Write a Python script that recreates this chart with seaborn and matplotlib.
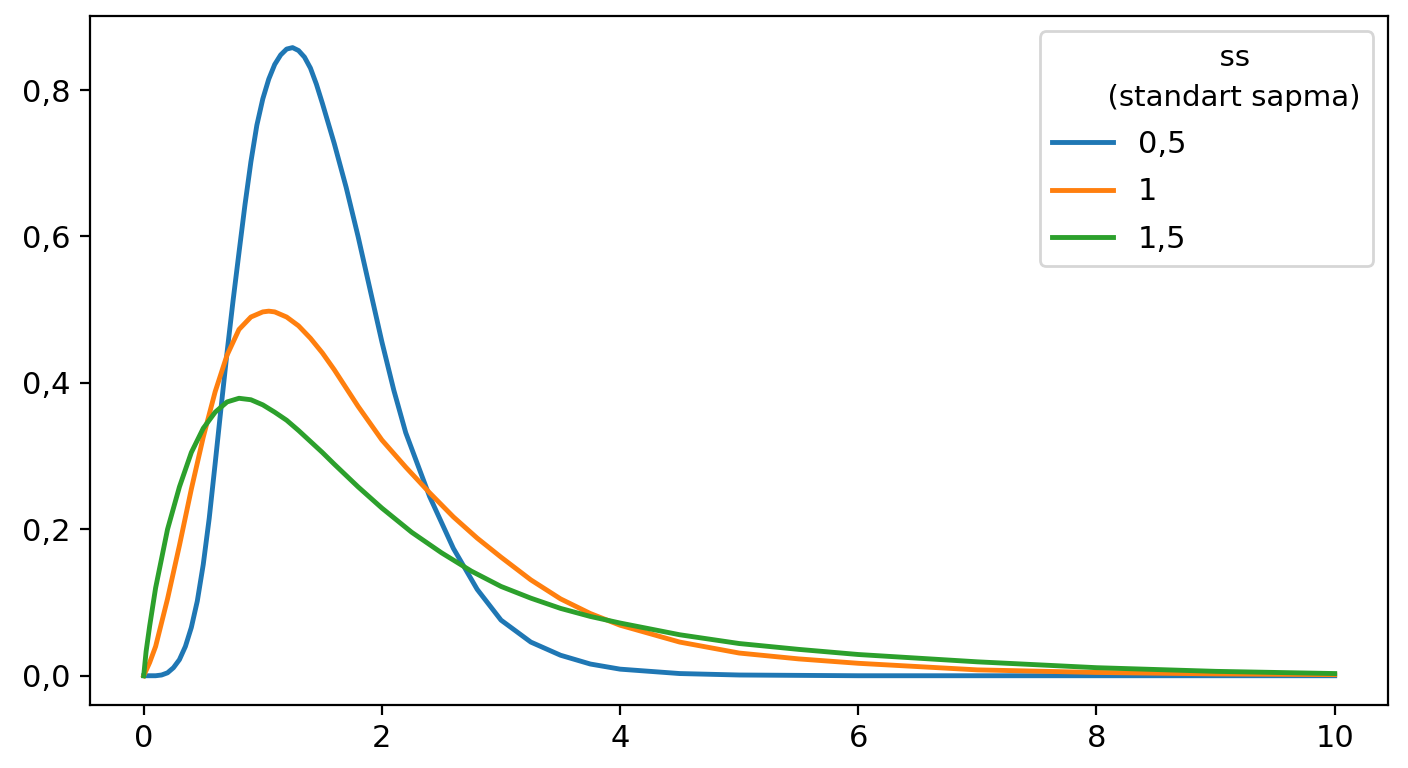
import matplotlib
matplotlib.use("Agg")
import matplotlib.pyplot as plt
import matplotlib.ticker as mticker
import seaborn as sns
import pandas as pd

# Series labels (legend) and colours
labels = ["0,5", "1", "1,5"]
colors = ["#1f77b4", "#ff7f0e", "#2ca02c"]
legend_title = "      ss\n      (standart sapma)"

# ss = 0,5
x_blue = [0, 0.1, 0.15, 0.2, 0.25, 0.3, 0.35, 0.4, 0.45, 0.5,
          0.55, 0.6, 0.65, 0.7, 0.75, 0.8, 0.85, 0.9, 0.95, 1.0,
          1.05, 1.1, 1.15, 1.2, 1.25, 1.3, 1.35, 1.4, 1.45, 1.5,
          1.6, 1.7, 1.8, 1.9, 2.0, 2.1, 2.2, 2.4, 2.6, 2.8,
          3.0, 3.25, 3.5, 3.75, 4.0, 4.5, 5.0, 6.0, 8.0, 10.0]
y_blue = [0, 0, 0.001, 0.004, 0.011, 0.022, 0.04, 0.066, 0.102, 0.152,
          0.215, 0.29, 0.367, 0.442, 0.512, 0.578, 0.643, 0.702, 0.752, 0.788,
          0.815, 0.835, 0.848, 0.856, 0.858, 0.854, 0.845, 0.830, 0.808, 0.782,
          0.727, 0.667, 0.600, 0.528, 0.456, 0.390, 0.332, 0.245, 0.174, 0.118,
          0.076, 0.046, 0.028, 0.016, 0.009, 0.003, 0.001, 0, 0, 0]

# ss = 1
x_orange = [0, 0.05, 0.1, 0.2, 0.3, 0.4, 0.5, 0.6, 0.7, 0.8,
            0.9, 1.0, 1.05, 1.1, 1.2, 1.3, 1.4, 1.5, 1.6, 1.7,
            1.8, 1.9, 2.0, 2.2, 2.4, 2.6, 2.8, 3.0, 3.25, 3.5,
            3.75, 4.0, 4.5, 5.0, 5.5, 6.0, 7.0, 8.0, 9.0, 10.0]
y_orange = [0, 0.018, 0.04, 0.105, 0.178, 0.255, 0.326, 0.388, 0.438, 0.473,
            0.490, 0.497, 0.498, 0.497, 0.490, 0.478, 0.461, 0.441, 0.418, 0.393,
            0.368, 0.345, 0.322, 0.285, 0.250, 0.217, 0.188, 0.162, 0.131, 0.105,
            0.085, 0.069, 0.046, 0.031, 0.023, 0.017, 0.008, 0.0045, 0.0025, 0.0015]

# ss = 1,5
x_green = [0, 0.02, 0.05, 0.1, 0.2, 0.3, 0.4, 0.5, 0.6, 0.7,
           0.8, 0.9, 1.0, 1.1, 1.2, 1.3, 1.4, 1.5, 1.6, 1.8,
           2.0, 2.25, 2.5, 2.75, 3.0, 3.25, 3.5, 3.75, 4.0, 4.5,
           5.0, 5.5, 6.0, 7.0, 8.0, 9.0, 10.0]
y_green = [0, 0.033, 0.068, 0.12, 0.2, 0.258, 0.305, 0.338, 0.360, 0.374,
           0.379, 0.377, 0.370, 0.360, 0.349, 0.335, 0.320, 0.305, 0.289, 0.258,
           0.229, 0.196, 0.168, 0.143, 0.122, 0.106, 0.092, 0.081, 0.072, 0.056,
           0.044, 0.036, 0.029, 0.019, 0.011, 0.006, 0.003]

x_ticks = [0, 2, 4, 6, 8, 10]
y_ticks = [0.0, 0.2, 0.4, 0.6, 0.8]

frames = []
for lab, xs, ys in zip(labels, [x_blue, x_orange, x_green], [y_blue, y_orange, y_green]):
    frames.append(pd.DataFrame({"x": xs, "y": ys, "ss": lab}))
df = pd.concat(frames, ignore_index=True)

plt.rcParams["font.size"] = 11
fig = plt.figure(figsize=(7.04, 3.84), dpi=200)
ax = fig.add_axes([0.064, 0.082, 0.922, 0.897])

sns.lineplot(data=df, x="x", y="y", hue="ss", hue_order=labels,
             palette=colors, estimator=None, linewidth=1.75, ax=ax)

ax.set_xlim(-0.45, 10.45)
ax.set_ylim(-0.04, 0.901)
ax.set_xticks(x_ticks)
ax.set_yticks(y_ticks)
ax.xaxis.set_major_formatter(mticker.FuncFormatter(lambda v, p: f"{v:g}".replace(".", ",")))
ax.yaxis.set_major_formatter(mticker.FuncFormatter(lambda v, p: f"{v:.1f}".replace(".", ",")))
ax.tick_params(labelsize=11)
ax.set_xlabel("")
ax.set_ylabel("")

leg = ax.legend(title=legend_title, loc="upper right", fontsize=11, title_fontsize=10.5,
                alignment="left", labelspacing=0.6)
leg.get_title().set_multialignment("center")
leg.get_title().set_linespacing(1.55)

fig.savefig("out.png", dpi=200)
